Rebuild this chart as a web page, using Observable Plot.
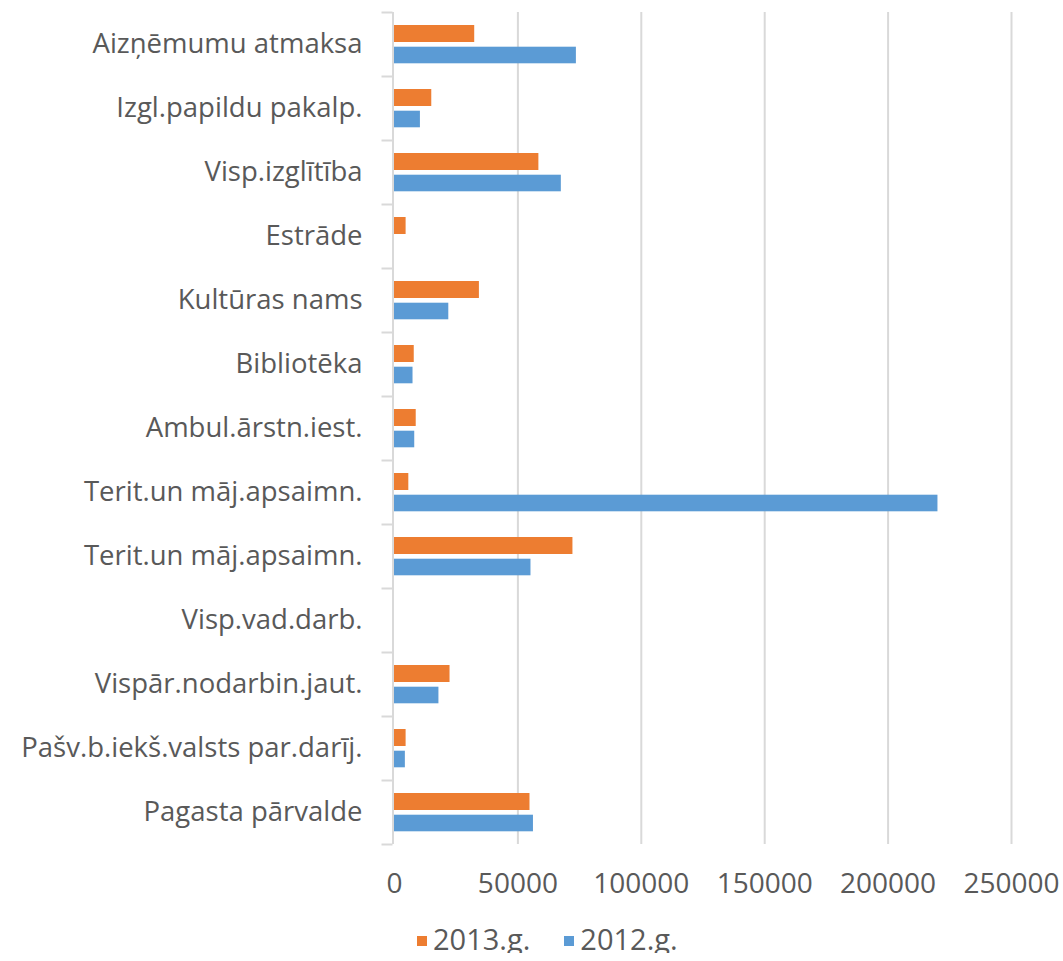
<!DOCTYPE html>
<html>
<head>
<meta charset="utf-8">
<script src="https://cdn.jsdelivr.net/npm/d3@7"></script>
<script src="https://cdn.jsdelivr.net/npm/@observablehq/plot@0.6"></script>
<style>
  body { margin: 0; background: #ffffff; font-family: "Open Sans", sans-serif; }
  #legend { display: flex; align-items: center; margin-left: 417px; margin-top: 14px; color: #595959; font-size: 29px; line-height: 1; }
  .item { display: flex; align-items: center; margin-right: 34px; }
  .sw { width: 10px; height: 10px; margin-right: 6px; margin-top: 4px; }
</style>
</head>
<body>
<div id="chart"></div>
<div id="legend"></div>
<script>
const categories = [
  "Aizņēmumu atmaksa",
  "Izgl.papildu pakalp.",
  "Visp.izglītība",
  "Estrāde",
  "Kultūras nams",
  "Bibliotēka",
  "Ambul.ārstn.iest.",
  "Terit.un māj.apsaimn.",
  "Terit.un māj.apsaimn.",
  "Visp.vad.darb.",
  "Vispār.nodarbin.jaut.",
  "Pašv.b.iekš.valsts par.darīj.",
  "Pagasta pārvalde"
];
const values2013 = [32500, 15100, 58500, 4700, 34400, 8000, 8800, 5800, 72300, 0, 22500, 4700, 54900];
const values2012 = [73700, 10500, 67600, 0, 22000, 7500, 8200, 220200, 55300, 0, 18000, 4400, 56300];
const seriesNames = ["2013.g.", "2012.g."];
const seriesColors = ["#ED7D31", "#5B9BD5"];
const xTicks = [0, 50000, 100000, 150000, 200000, 250000];

const keys = categories.map((c, i) => i);
const data2013 = keys.map(i => ({key: i, value: values2013[i]}));
const data2012 = keys.map(i => ({key: i, value: values2012[i]}));

const chart = Plot.plot({
  width: 1063,
  height: 910,
  marginTop: 12,
  marginBottom: 66,
  marginLeft: 394,
  marginRight: 52,
  style: {fontFamily: "Open Sans", fontSize: "27px", color: "#595959", background: "white"},
  x: {domain: [0, 250000], axis: null, label: null},
  y: {domain: keys, padding: 0, axis: null, label: null},
  marks: [
    Plot.gridX(xTicks.slice(1), {stroke: "#d9d9d9", strokeOpacity: 1, strokeWidth: 2}),
    Plot.barX(data2013, {x: "value", y: "key", fill: seriesColors[0], insetTop: 13, insetBottom: 34}),
    Plot.barX(data2012, {x: "value", y: "key", fill: seriesColors[1], insetTop: 34.7, insetBottom: 12.7}),
    Plot.ruleX([0], {stroke: "#d9d9d9", strokeWidth: 2, dx: -1.5}),
    Plot.axisY({label: null, tickSize: 0, tickPadding: 32, tickFormat: i => categories[i], fill: "#595959", fontSize: 27.5}),
    Plot.axisY({label: null, tickSize: 11, dy: -32, dx: -1.5, tickFormat: () => "", stroke: "#d9d9d9", strokeWidth: 2, strokeOpacity: 1}),
    Plot.axisY({label: null, ticks: [keys[keys.length - 1]], tickSize: 11, dy: 32, dx: -1.5, tickFormat: () => "", stroke: "#d9d9d9", strokeWidth: 2, strokeOpacity: 1}),
    Plot.axisX({label: null, ticks: xTicks, tickSize: 0, tickPadding: 29, tickFormat: d => String(d), fill: "#595959", fontSize: 28})
  ]
});
document.getElementById("chart").appendChild(chart);

const legend = document.getElementById("legend");
seriesNames.forEach((name, i) => {
  const item = document.createElement("div");
  item.className = "item";
  const sw = document.createElement("div");
  sw.className = "sw";
  sw.style.background = seriesColors[i];
  const label = document.createElement("span");
  label.textContent = name;
  item.appendChild(sw);
  item.appendChild(label);
  legend.appendChild(item);
});
</script>
</body>
</html>
